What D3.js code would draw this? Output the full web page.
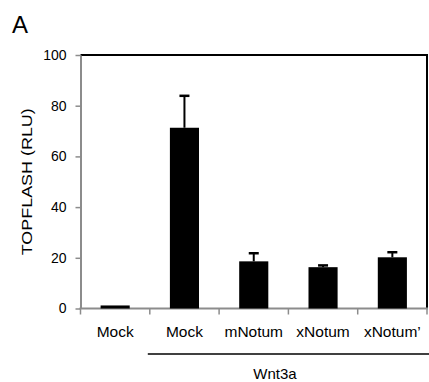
<!DOCTYPE html>
<html>
<head>
<meta charset="utf-8">
<script src="https://cdn.jsdelivr.net/npm/d3@7"></script>
<style>
  body { margin: 0; background: #fff; }
  svg { display: block; font-family: "Liberation Sans", Arial, sans-serif; }
</style>
</head>
<body>
<div id="chart"></div>
<script>
// values
var categories = ["Mock", "Mock", "mNotum", "xNotum", "xNotum\u2019"];
var means = [1.2, 71.3, 18.6, 16.3, 20.2];
var errors = [0, 12.6, 3.2, 0.7, 2.0];
var yTicks = [0, 20, 40, 60, 80, 100];
var groupLabel = "Wnt3a";

var width = 429, height = 382;
var margin = { top: 55, right: 2, bottom: 73.5, left: 80.5 };

var svg = d3.select("#chart")
   .append("svg")
   .attr("width", width)
   .attr("height", height);

var data = categories.map(function (c, i) {
   return { key: i, label: c, mean: means[i], err: errors[i] };
});

var x = d3.scaleBand()
   .domain(data.map(function (d) { return d.key; }))
   .range([margin.left, width - margin.right])
   .paddingInner(0.58)
   .paddingOuter(0.29);

var y = d3.scaleLinear()
   .domain([0, 100])
   .range([height - margin.bottom, margin.top]);

var gray = "#8c8c8c";

// top and right frame lines (black)
svg.append("path")
   .attr("d", "M" + x.range()[0] + "," + y(100) + "H" + x.range()[1] + "V" + y(0))
   .attr("fill", "none")
   .attr("stroke", "#000")
   .attr("stroke-width", 2);

// y axis
var yAxis = svg.append("g")
   .attr("transform", "translate(" + x.range()[0] + ",0)")
   .call(d3.axisLeft(y).tickValues(yTicks).tickSize(5).tickPadding(9).tickSizeOuter(0));
yAxis.select(".domain").attr("stroke", gray).attr("stroke-width", 2);
yAxis.selectAll(".tick line").attr("stroke", gray).attr("stroke-width", 1.5);
yAxis.selectAll(".tick text").attr("font-size", 14).attr("fill", "#000")
   .attr("font-family", "Liberation Sans, Arial, sans-serif");

// x axis: labels centered in bands, ticks on band boundaries
var xAxis = svg.append("g")
   .attr("transform", "translate(0," + y(0) + ")")
   .call(d3.axisBottom(x).tickSize(0).tickPadding(17)
      .tickFormat(function (k) { return categories[k]; }));
xAxis.select(".domain").attr("stroke", gray).attr("stroke-width", 2)
   .attr("d", "M" + (x.range()[0] - 1) + ",0H" + (x.range()[1] + 1));
xAxis.selectAll(".tick text").attr("font-size", 15.5).attr("fill", "#000")
   .attr("font-family", "Liberation Sans, Arial, sans-serif");

var gap = (x.step() - x.bandwidth()) / 2;
var bounds = data.map(function (d) { return x(d.key) - gap; });
bounds.push(x(data[data.length - 1].key) + x.bandwidth() + gap);
svg.append("g").selectAll("line")
   .data(bounds)
   .enter()
   .append("line")
   .attr("x1", function (d) { return d; })
   .attr("x2", function (d) { return d; })
   .attr("y1", y(0))
   .attr("y2", y(0) + 6)
   .attr("stroke", gray)
   .attr("stroke-width", 1.5);

// error bars (upper only)
var eb = svg.append("g").selectAll("g")
   .data(data.filter(function (d) { return d.err > 0; }))
   .enter()
   .append("g");
eb.append("line")
   .attr("x1", function (d) { return x(d.key) + x.bandwidth() / 2; })
   .attr("x2", function (d) { return x(d.key) + x.bandwidth() / 2; })
   .attr("y1", function (d) { return y(d.mean); })
   .attr("y2", function (d) { return y(d.mean + d.err); })
   .attr("stroke", "#000")
   .attr("stroke-width", 2);
eb.append("line")
   .attr("x1", function (d) { return x(d.key) + x.bandwidth() / 2 - 5; })
   .attr("x2", function (d) { return x(d.key) + x.bandwidth() / 2 + 5; })
   .attr("y1", function (d) { return y(d.mean + d.err); })
   .attr("y2", function (d) { return y(d.mean + d.err); })
   .attr("stroke", "#000")
   .attr("stroke-width", 2.5);

// bars
svg.append("g").selectAll("rect")
   .data(data)
   .enter()
   .append("rect")
   .attr("x", function (d) { return x(d.key); })
   .attr("y", function (d) { return y(d.mean); })
   .attr("width", x.bandwidth())
   .attr("height", function (d) { return y(0) - y(d.mean); })
   .attr("fill", "#000");

// y axis title
svg.append("text")
   .attr("transform", "translate(32," + ((y(0) + y(100)) / 2) + ") rotate(-90)")
   .attr("text-anchor", "middle")
   .attr("font-size", 15)
   .attr("textLength", 147)
   .attr("lengthAdjust", "spacingAndGlyphs")
   .text("TOPFLASH (RLU)");

// Wnt3a group bracket
svg.append("line")
   .attr("x1", bounds[1] - 2)
   .attr("x2", width)
   .attr("y1", 354)
   .attr("y2", 354)
   .attr("stroke", "#000")
   .attr("stroke-width", 1.5);
svg.append("text")
   .attr("x", 275)
   .attr("y", 379)
   .attr("text-anchor", "middle")
   .attr("font-size", 15)
   .text(groupLabel);

// panel letter
svg.append("text")
   .attr("x", 12)
   .attr("y", 33)
   .attr("font-size", 24)
   .text("A");
</script>
</body>
</html>
